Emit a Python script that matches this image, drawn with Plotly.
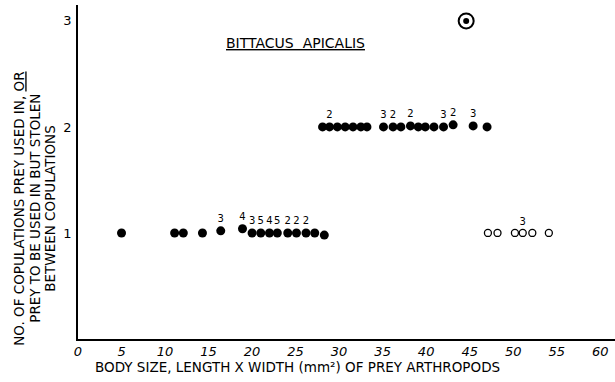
import plotly.graph_objects as go

# Prey used in 1 copulation (filled)
one_x = [5.0, 11.1, 12.1, 14.3, 16.4, 18.9, 20.0, 21.0, 22.0, 22.9, 24.1, 25.1, 26.2, 27.2, 28.3]
one_y = [1.0, 1.0, 1.0, 1.0, 1.02, 1.04, 1.0, 1.0, 1.0, 1.0, 1.0, 1.0, 1.0, 1.0, 0.98]
one_n = ["", "", "", "", "3", "4", "3", "5", "4", "5", "2", "2", "2", "", ""]

# Prey used in 2 copulations (filled)
two_x = [28.1, 28.9, 29.8, 30.7, 31.6, 32.5, 33.2, 35.1, 36.2, 37.1, 38.2, 39.1, 39.9, 40.9, 42.0, 43.1, 45.4, 47.0]
two_y = [2.0, 2.0, 2.0, 2.0, 2.0, 2.0, 2.0, 2.0, 2.0, 2.0, 2.01, 2.0, 2.0, 2.0, 2.0, 2.02, 2.01, 2.0]
two_n = ["", "2", "", "", "", "", "", "3", "2", "", "2", "", "", "", "3", "2", "3", ""]

# Prey stolen between copulations (open)
stolen_x = [47.1, 48.2, 50.2, 51.1, 52.2, 54.1]
stolen_y = [1.0, 1.0, 1.0, 1.0, 1.0, 1.0]
stolen_n = ["", "", "", "3", "", ""]

# Circled point
three_x = [44.6]
three_y = [3.0]

x_ticks = [0, 5, 10, 15, 20, 25, 30, 35, 40, 45, 50, 55, 60]
y_ticks = [1, 2, 3]

y_title_lines = ["NO. OF COPULATIONS PREY USED IN, <u>OR</u>",
                 "PREY TO BE USED IN BUT STOLEN",
                 "BETWEEN COPULATIONS"]

FONT = "DejaVu Sans"
fig = go.Figure()

fig.add_trace(go.Scatter(
    x=one_x, y=one_y, mode="markers+text", text=one_n, textposition="top center",
    textfont=dict(size=10, color="black", family=FONT),
    marker=dict(size=9, color="black"), showlegend=False, cliponaxis=False))
fig.add_trace(go.Scatter(
    x=two_x, y=two_y, mode="markers+text", text=two_n, textposition="top center",
    textfont=dict(size=10, color="black", family=FONT),
    marker=dict(size=9, color="black"), showlegend=False, cliponaxis=False))
fig.add_trace(go.Scatter(
    x=stolen_x, y=stolen_y, mode="markers+text", text=stolen_n, textposition="top center",
    textfont=dict(size=10, color="black", family=FONT),
    marker=dict(size=7, color="white", line=dict(color="black", width=1.3)),
    showlegend=False, cliponaxis=False))
fig.add_trace(go.Scatter(
    x=three_x, y=three_y, mode="markers",
    marker=dict(size=15, color="white", line=dict(color="black", width=2)),
    showlegend=False, cliponaxis=False))
fig.add_trace(go.Scatter(
    x=three_x, y=three_y, mode="markers",
    marker=dict(size=6, color="black"), showlegend=False, cliponaxis=False))

annotations = [
    dict(text="<u>BITTACUS  APICALIS</u>", x=(295 - 78) / 537, y=0.915, xref="paper", yref="paper",
         xanchor="center", showarrow=False, font=dict(size=14, family=FONT)),
    dict(text="BODY SIZE, LENGTH X WIDTH (mm²) OF PREY ARTHROPODS",
         x=(297 - 78) / 537, y=(339 - 367) / 334, xref="paper", yref="paper", xanchor="center",
         yanchor="middle", showarrow=False, font=dict(size=13.5, family=FONT)),
]
for px, line in zip([19, 35, 50], y_title_lines):
    annotations.append(dict(text=line, x=(px - 78) / 537, y=0.39, xref="paper", yref="paper",
                            xanchor="center", yanchor="middle", textangle=-90, showarrow=False,
                            font=dict(size=13.5, family=FONT)))

fig.update_layout(
    width=615, height=382,
    margin=dict(l=78, r=0, t=5, b=43, autoexpand=False),
    paper_bgcolor="white", plot_bgcolor="white",
    font=dict(family=FONT, color="black"),
    xaxis=dict(range=[0, 61.7], tickvals=x_ticks, ticktext=[str(v) for v in x_ticks],
               showgrid=False, zeroline=False, showline=True, linecolor="black", linewidth=1.5,
               ticks="", automargin=False, ticklabelstandoff=0,
               tickfont=dict(size=13, family=FONT, style="italic")),
    yaxis=dict(range=[0, 3.15], tickvals=y_ticks, ticktext=[str(v) for v in y_ticks],
               showgrid=False, zeroline=False, showline=True, linecolor="black", linewidth=1.5,
               ticks="", automargin=False, ticklabelstandoff=2, tickfont=dict(size=13, family=FONT)),
    annotations=annotations,
)

fig.write_html("out.html", config={"displayModeBar": False},
               post_script="document.body.style.margin='0';document.body.style.padding='0';")
